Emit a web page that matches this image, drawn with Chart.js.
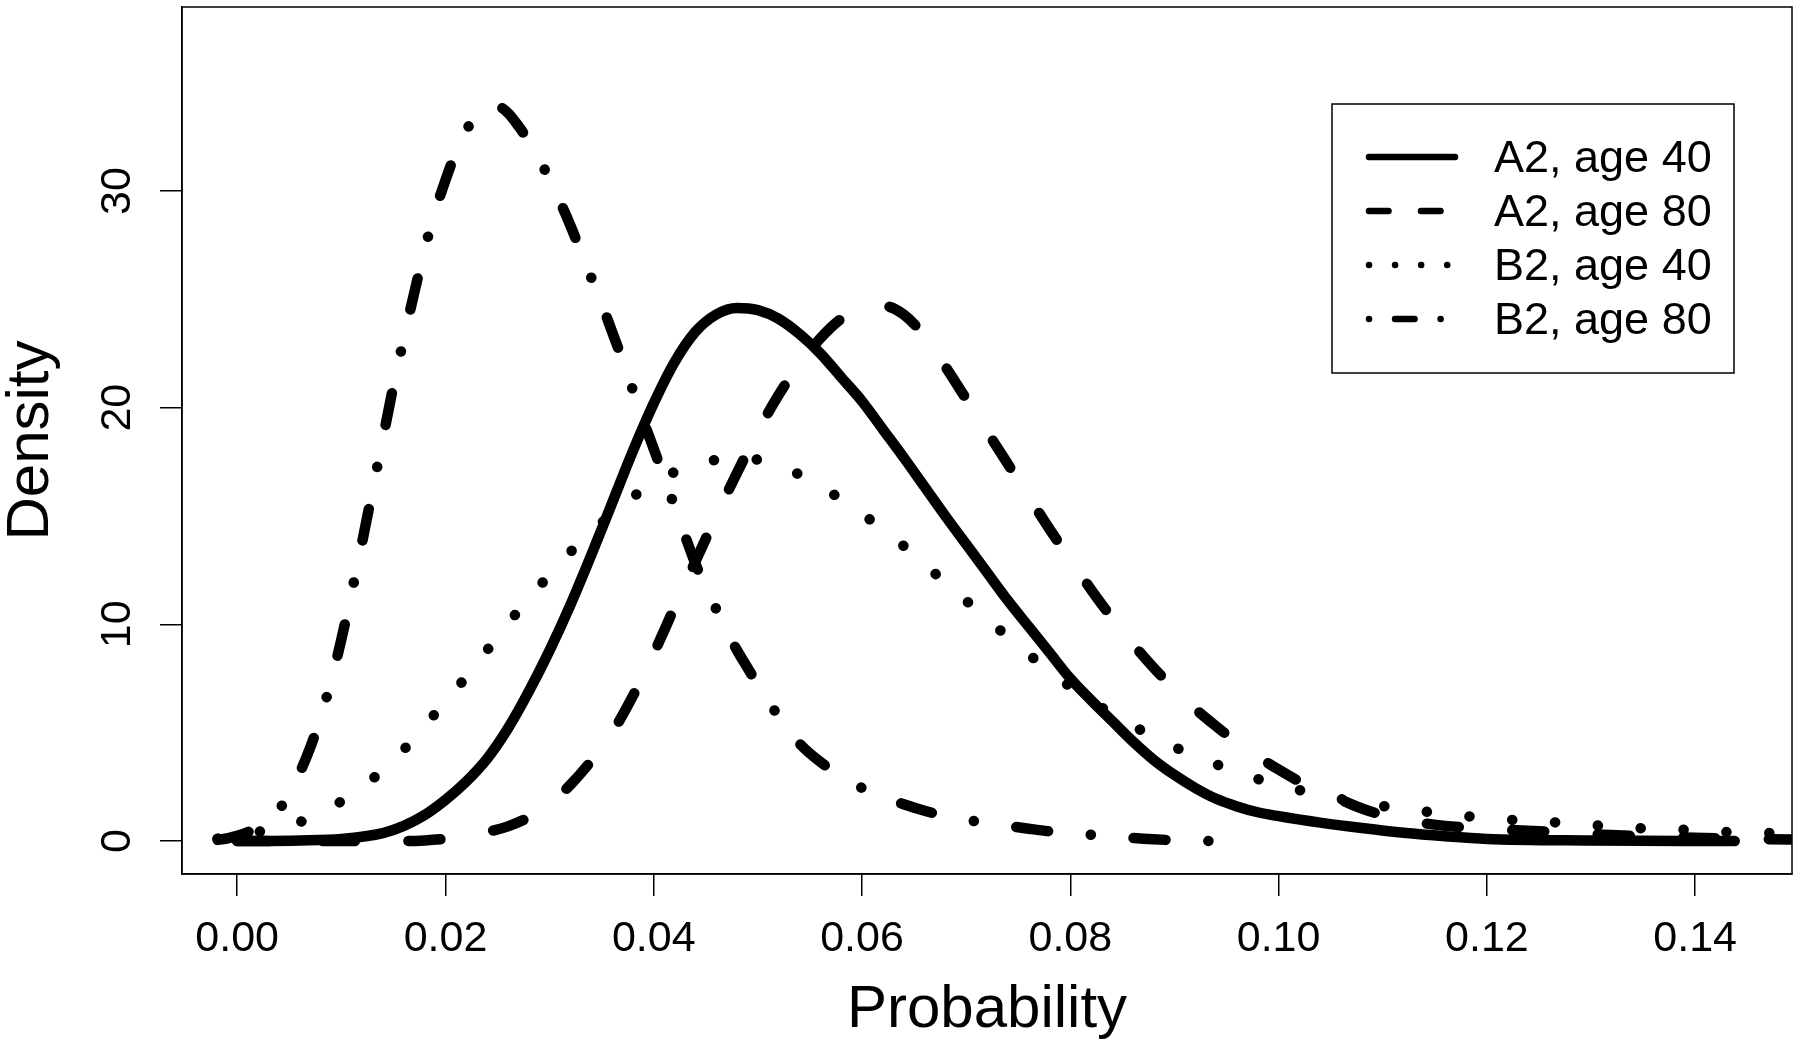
<!DOCTYPE html>
<html>
<head>
<meta charset="utf-8">
<script src="https://cdn.jsdelivr.net/npm/chart.js@4.4.1/dist/chart.umd.min.js"></script>
<style>
  html, body { margin: 0; padding: 0; background: #fff; }
  #wrap { width: 1800px; height: 1051px; }
</style>
</head>
<body>
<div id="wrap"><canvas id="densityChart" width="1800" height="1051"></canvas></div>
<script>
// Density curves (x = probability, y = density)
const a2Age40X = [0.000, 0.006, 0.010, 0.014, 0.016, 0.018, 0.020, 0.022, 0.024, 0.026, 0.028, 0.030, 0.032, 0.034, 0.036, 0.038, 0.040, 0.042, 0.044, 0.046, 0.048, 0.050, 0.052, 0.054, 0.056, 0.058, 0.060, 0.062, 0.064, 0.066, 0.068, 0.070, 0.072, 0.074, 0.076, 0.078, 0.080, 0.082, 0.084, 0.086, 0.088, 0.090, 0.092, 0.094, 0.096, 0.098, 0.100, 0.104, 0.108, 0.112, 0.116, 0.120, 0.130, 0.1438];
const a2Age40Y = [0.00, 0.03, 0.10, 0.37, 0.70, 1.20, 1.90, 2.75, 3.80, 5.20, 6.90, 8.80, 10.9, 13.2, 15.6, 18.0, 20.2, 22.1, 23.5, 24.3, 24.6, 24.5, 24.1, 23.4, 22.5, 21.4, 20.3, 19.0, 17.7, 16.35, 15.0, 13.7, 12.4, 11.1, 9.9, 8.7, 7.5, 6.5, 5.55, 4.6, 3.75, 3.05, 2.45, 1.95, 1.6, 1.33, 1.15, 0.85, 0.6, 0.38, 0.22, 0.10, 0.03, 0.00];

const a2Age80X = [0.000, 0.016, 0.018, 0.020, 0.022, 0.024, 0.026, 0.028, 0.030, 0.032, 0.034, 0.036, 0.038, 0.040, 0.042, 0.044, 0.046, 0.048, 0.050, 0.052, 0.054, 0.056, 0.058, 0.060, 0.062, 0.064, 0.066, 0.068, 0.070, 0.072, 0.074, 0.076, 0.078, 0.080, 0.082, 0.084, 0.086, 0.088, 0.090, 0.092, 0.094, 0.096, 0.098, 0.100, 0.102, 0.104, 0.106, 0.108, 0.110, 0.112, 0.114, 0.116, 0.118, 0.120, 0.125, 0.130, 0.140, 0.152];
const a2Age80Y = [0.00, 0.00, 0.03, 0.10, 0.22, 0.42, 0.68, 1.10, 1.70, 2.60, 3.70, 5.00, 6.70, 8.65, 10.8, 12.9, 15.0, 17.0, 18.9, 20.6, 22.0, 23.2, 24.1, 24.55, 24.7, 24.3, 23.3, 21.9, 20.4, 18.9, 17.4, 15.9, 14.4, 13.0, 11.6, 10.3, 9.1, 8.0, 7.0, 6.1, 5.3, 4.55, 3.9, 3.3, 2.75, 2.3, 1.9, 1.5, 1.2, 0.98, 0.82, 0.7, 0.62, 0.56, 0.45, 0.32, 0.15, 0.05];

const b2Age40X = [-0.0060, -0.0030, 0.0010, 0.0052, 0.0090, 0.0124, 0.0155, 0.0182, 0.0209, 0.0235, 0.0260, 0.0287, 0.0314, 0.0344, 0.0376, 0.0410, 0.0449, 0.0489, 0.0529, 0.0566, 0.0600, 0.0633, 0.0664, 0.0695, 0.0726, 0.0758, 0.0790, 0.0824, 0.0859, 0.0896, 0.0934, 0.0973, 0.1013, 0.1053, 0.1094, 0.1134, 0.1176, 0.1217, 0.1257, 0.1299, 0.1340, 0.1382, 0.1423, 0.1464, 0.1520];
const b2Age40Y = [0.00, 0.05, 0.35, 0.74, 1.55, 2.64, 3.97, 5.43, 6.94, 8.5, 10.04, 11.58, 13.05, 14.43, 15.74, 16.8, 17.5, 17.65, 17.15, 16.2, 15.1, 13.9, 12.6, 11.3, 10.0, 8.7, 7.47, 6.35, 5.35, 4.43, 3.66, 2.97, 2.43, 2.0, 1.66, 1.4, 1.17, 1.0, 0.89, 0.74, 0.61, 0.54, 0.43, 0.38, 0.32];

const b2Age80X = [-0.006, -0.002, 0.000, 0.002, 0.003, 0.004, 0.005, 0.006, 0.007, 0.008, 0.009, 0.010, 0.011, 0.012, 0.013, 0.014, 0.015, 0.016, 0.017, 0.018, 0.019, 0.020, 0.021, 0.022, 0.023, 0.024, 0.025, 0.026, 0.027, 0.028, 0.029, 0.030, 0.031, 0.032, 0.033, 0.034, 0.035, 0.036, 0.037, 0.038, 0.039, 0.040, 0.041, 0.042, 0.043, 0.044, 0.045, 0.046, 0.047, 0.048, 0.049, 0.050, 0.052, 0.054, 0.056, 0.058, 0.060, 0.062, 0.064, 0.066, 0.068, 0.070, 0.072, 0.074, 0.076, 0.078, 0.080, 0.082, 0.084, 0.086, 0.088, 0.090, 0.094];
const b2Age80Y = [0.00, 0.05, 0.25, 0.65, 1.05, 1.45, 2.2, 3.15, 4.3, 5.7, 7.35, 9.3, 11.5, 13.8, 16.2, 18.6, 21.0, 23.2, 25.3, 27.3, 29.05, 30.5, 31.8, 32.8, 33.5, 33.85, 33.9, 33.6, 33.0, 32.3, 31.5, 30.5, 29.5, 28.4, 27.2, 26.0, 24.8, 23.5, 22.2, 20.8, 19.4, 18.1, 16.75, 15.45, 14.1, 12.8, 11.7, 10.7, 9.7, 8.8, 8.0, 7.2, 5.75, 4.5, 3.65, 3.0, 2.45, 2.05, 1.7, 1.4, 1.15, 0.98, 0.84, 0.7, 0.57, 0.45, 0.36, 0.29, 0.22, 0.14, 0.08, 0.04, 0.00];

const seriesNames = ['A2, age 40', 'A2, age 80', 'B2, age 40', 'B2, age 80'];
const seriesLty = ['solid', 'dashed', 'dotted', 'dotdash'];
const seriesX = [a2Age40X, a2Age80X, b2Age40X, b2Age80X];
const seriesY = [a2Age40Y, a2Age80Y, b2Age40Y, b2Age80Y];

const xTicks = [0.00, 0.02, 0.04, 0.06, 0.08, 0.10, 0.12, 0.14];
const yTicks = [0, 10, 20, 30];

// R style line types, in units of line width (round caps eat one unit of each dash)
const ltyPattern = {
    solid: [],
    dashed: [3, 5],
    dotted: [0.01, 4],
    dotdash: [0.01, 4, 3, 4]
};
const plotLineWidth = 10.5;
const plotDashUnit = 10.7;
const legendLineWidth = 6.5;
const legendDashUnit = 6.5;

const fontFamily = '"Liberation Sans", Arial, Helvetica, sans-serif';

document.addEventListener('DOMContentLoaded', function () {
    const ctx = document.getElementById('densityChart').getContext('2d');

    const datasets = seriesNames.map(function (name, i) {
        return {
            label: name,
            data: seriesX[i].map((x, j) => ({ x: x, y: seriesY[i][j] })),
            showLine: true,
            borderColor: '#000',
            borderWidth: plotLineWidth,
            borderCapStyle: 'round',
            borderJoinStyle: 'round',
            borderDash: ltyPattern[seriesLty[i]].map(u => u * plotDashUnit),
            cubicInterpolationMode: 'monotone',
            pointRadius: 0,
            clip: 0,
            fill: false
        };
    });

    // plot frame (R box())
    const framePlugin = {
        id: 'frame',
        afterDraw(chart) {
            const a = chart.chartArea;
            const c = chart.ctx;
            c.save();
            c.strokeStyle = '#000';
            c.lineWidth = 1.5;
            c.strokeRect(a.left, a.top, a.right - a.left, a.bottom - a.top);
            c.restore();
        }
    };

    // legend box in the top right corner of the plot
    const legendPlugin = {
        id: 'rLegend',
        afterDraw(chart) {
            const a = chart.chartArea;
            const c = chart.ctx;
            const box = { left: a.right - 460, top: a.top + 97, width: 402, height: 269 };
            c.save();
            c.strokeStyle = '#000';
            c.fillStyle = '#000';
            c.lineWidth = 1.5;
            c.strokeRect(box.left, box.top, box.width, box.height);
            c.font = '45px ' + fontFamily;
            c.textBaseline = 'middle';
            c.textAlign = 'left';
            chart.data.datasets.forEach(function (ds, i) {
                const y = box.top + 53 + i * 54;
                c.beginPath();
                c.lineWidth = legendLineWidth;
                c.lineCap = 'round';
                c.setLineDash(ltyPattern[seriesLty[i]].map(u => u * legendDashUnit));
                c.moveTo(box.left + 37, y);
                c.lineTo(box.left + 123, y);
                c.stroke();
                c.setLineDash([]);
                c.fillText(ds.label, box.left + 162, y + 3);
            });
            c.restore();
        }
    };

    const config = {
        type: 'scatter',
        data: { datasets: datasets },
        options: {
            responsive: false,
            animation: false,
            events: [],
            layout: {
                padding: { top: 7, right: 8, left: 0, bottom: 0 }
            },
            scales: {
                x: {
                    type: 'linear',
                    min: -0.0053,
                    max: 0.1493,
                    afterBuildTicks: function (scale) {
                        scale.ticks = xTicks.map(v => ({ value: v }));
                    },
                    afterFit: function (scale) {
                        scale.height = 177;
                        scale.paddingLeft = 0;
                        scale.paddingRight = 0;
                    },
                    grid: {
                        drawOnChartArea: false,
                        drawTicks: true,
                        tickLength: 22,
                        color: '#000',
                        lineWidth: 1.5
                    },
                    border: { display: true, color: '#000', width: 1.5 },
                    ticks: {
                        autoSkip: false,
                        minRotation: 0,
                        maxRotation: 0,
                        padding: 17,
                        color: '#000',
                        font: { family: fontFamily, size: 43 },
                        callback: v => v.toFixed(2)
                    },
                    title: {
                        display: true,
                        text: 'Probability',
                        color: '#000',
                        font: { family: fontFamily, size: 60, lineHeight: 1.2 },
                        padding: { top: 0, bottom: 5 }
                    }
                },
                y: {
                    type: 'linear',
                    min: -1.52,
                    max: 38.49,
                    afterBuildTicks: function (scale) {
                        scale.ticks = yTicks.map(v => ({ value: v }));
                    },
                    afterFit: function (scale) {
                        scale.width = 182;
                        scale.paddingTop = 0;
                        scale.paddingBottom = 0;
                    },
                    grid: {
                        drawOnChartArea: false,
                        drawTicks: true,
                        tickLength: 22,
                        color: '#000',
                        lineWidth: 1.5
                    },
                    border: { display: true, color: '#000', width: 1.5 },
                    ticks: {
                        minRotation: 90,
                        maxRotation: 90,
                        crossAlign: 'center',
                        padding: 18,
                        color: '#000',
                        font: { family: fontFamily, size: 43 },
                        callback: v => String(v)
                    },
                    title: {
                        display: true,
                        text: 'Density',
                        color: '#000',
                        font: { family: fontFamily, size: 60, lineHeight: 1.0 },
                        padding: { top: 1, bottom: 0 }
                    }
                }
            },
            plugins: {
                legend: { display: false },
                tooltip: { enabled: false }
            }
        },
        plugins: [framePlugin, legendPlugin]
    };

    new Chart(ctx, config);
});
</script>
</body>
</html>
